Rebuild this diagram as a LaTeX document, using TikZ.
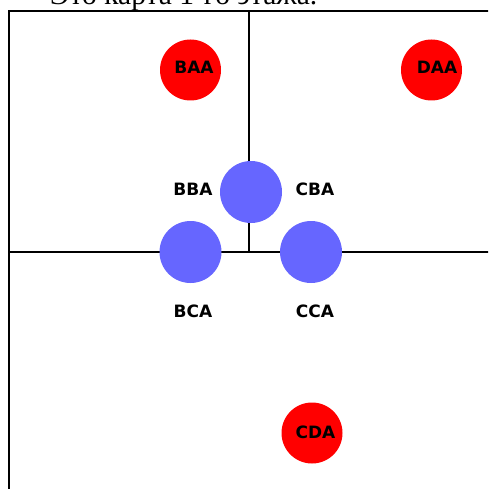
\documentclass[tikz,border=0pt]{standalone}
\usepackage{fontspec}
\setmainfont{Liberation Serif}
\newfontfamily\labelfont{DejaVu Sans}
\definecolor{roomred}{HTML}{FF0000}
\definecolor{roomblue}{HTML}{6666FF}
\begin{document}
\begin{tikzpicture}[x=1pt,y=-1pt,
  wall/.style={line width=2.6pt,black},
  redroom/.style={circle,fill=roomred,minimum size=61pt,inner sep=0pt},
  blueroom/.style={circle,fill=roomblue,minimum size=62pt,inner sep=0pt},
  lbl/.style={font=\labelfont\bfseries\fontsize{17}{17}\selectfont,inner sep=0pt,anchor=center}]
\useasboundingbox (0,0) rectangle (488,489);
\clip (0,0) rectangle (488,489);
\node[anchor=base west,inner sep=0pt,font=\fontsize{29.5}{29.5}\selectfont] (title) at (50,5) {Это карта 1-го этажа.};
\draw[wall] (500,11) -- (9,11) -- (9,500);
\draw[wall] (249,11) -- (249,252);
\draw[wall] (9,252) -- (500,252);
\node[redroom] (baa) at (190.5,70) {};
\node[redroom] (daa) at (431.5,70) {};
\node[redroom] (cda) at (312,433) {};
\node[blueroom] (bba) at (251,192) {};
\node[blueroom] (bca) at (190.5,252) {};
\node[blueroom] (cca) at (311,252) {};
\node[lbl] (tbaa) at (194,67) {BAA};
\node[lbl] (tdaa) at (437,67) {DAA};
\node[lbl] (tcda) at (315.5,432) {CDA};
\node[lbl] (tbba) at (193,189) {BBA};
\node[lbl] (tcba) at (315,189) {CBA};
\node[lbl] (tbca) at (193,311) {BCA};
\node[lbl] (tcca) at (315,311) {CCA};
\end{tikzpicture}
\end{document}
